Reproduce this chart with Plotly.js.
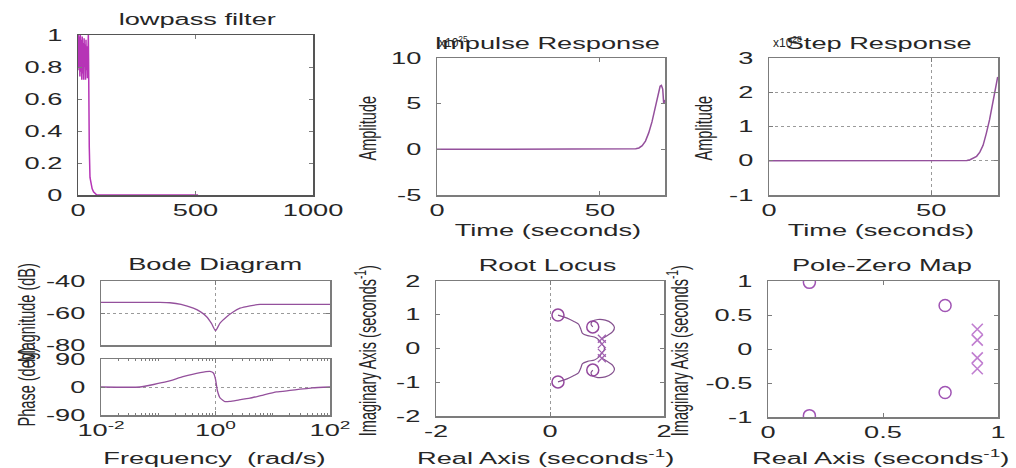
<!DOCTYPE html>
<html>
<head>
<meta charset="utf-8">
<script src="https://cdn.plot.ly/plotly-3.0.1.min.js"></script>
<style>
html,body{margin:0;padding:0;background:#fff;}
#chart{width:1016px;height:468px;}
</style>
</head>
<body>
<div id="chart"></div>
<script>
// ---------------- data ----------------
// lowpass filter magnitude
const lpFreq = [0, 2, 4, 6, 8, 10, 12, 14, 16, 18, 20, 22, 24, 26, 28, 30, 32, 34, 36, 38, 40, 42, 44, 45, 46, 48, 51, 55, 60, 66, 72, 80, 120, 250, 400, 511];
const lpMag  = [0.78, 1.0, 0.8, 0.99, 0.74, 1.0, 0.77, 0.97, 0.72, 0.99, 0.76, 0.95, 0.72, 0.98, 0.8, 0.94, 0.72, 0.97, 0.78, 0.93, 0.73, 0.97, 1.0, 0.85, 0.47, 0.3, 0.11, 0.07, 0.04, 0.02, 0.01, 0.0, 0.0, 0.0, 0.0, 0.0];
const lpXTicks = [0, 500, 1000];
const lpYTicks = [0, 0.2, 0.4, 0.6, 0.8, 1];

// impulse response (x 1e25)
const impTime = [0, 10, 20, 30, 40, 50, 55, 58, 60, 61, 62, 63, 64, 65, 66, 67, 68, 68.5, 68.9, 69.3, 69.6, 70];
const impAmp  = [0, 0, 0, 0, 0, 0, 0, 0, 0.02, 0.06, 0.15, 0.4, 0.9, 1.8, 3.0, 4.6, 6.3, 6.9, 7.0, 6.6, 5.0, 5.4];
const timeTicks = [0, 50];
const impYTicks = [-5, 0, 5, 10];
const impYLabels = ['-5', '0', '5', '10'];

// step response (x 1e28)
const stepTime = [0, 10, 20, 30, 40, 50, 55, 60, 61, 62, 63, 64, 65, 66, 67, 68, 69, 70, 70.5];
const stepAmp  = [0, 0, 0, 0, 0, 0, 0, 0, 0.01, 0.03, 0.07, 0.13, 0.25, 0.45, 0.8, 1.2, 1.7, 2.2, 2.45];
const stepYTicks = [-1, 0, 1, 2, 3];
const stepYLabels = ['-1', '0', '1', '2', '3'];

// Bode diagram
const bodeMagW  = [0.01, 0.03, 0.1, 0.16, 0.25, 0.41, 0.55, 0.7, 0.85, 1.0, 1.2, 1.57, 2.0, 2.68, 4.0, 6.0, 10, 30, 100];
const bodeMagDb = [-53.3, -53.3, -53.4, -53.6, -54.6, -57, -59.3, -62.3, -66.5, -71, -66.3, -62.3, -59.5, -57, -55.5, -54.6, -54.6, -54.6, -54.6];
const bodePhW   = [0.01, 0.048, 0.14, 0.27, 0.54, 0.8, 0.92, 1.0, 1.08, 1.2, 1.47, 1.8, 2.5, 4.0, 7.0, 11.7, 20, 30, 50, 100];
const bodePhDeg = [0, 0, 17, 33, 46, 50, 45, 25, -12, -35, -47, -46, -42, -36, -25, -16, -11, -7, -3, 0];
const bodeTickVals = [0.01, 1, 100];
const bodeTickText = ['10<sup>-2</sup>', '10<sup>0</sup>', '10<sup>2</sup>'];
const magTicks = [-80, -60, -40];
const magLabels = ['-80', '-60', '-40'];
const phTicks = [-90, 0, 90];
const phLabels = ['-90', '0', '90'];

// root locus branches (real, imaginary)
const rlB1Re = [0.91, 1.00, 1.10, 1.13, 1.08, 0.97, 0.84, 0.74, 0.72, 0.75];
const rlB1Im = [0.29, 0.38, 0.50, 0.63, 0.75, 0.84, 0.86, 0.80, 0.72, 0.64];
const rlB2Re = [0.91, 0.86, 0.78, 0.66, 0.57, 0.54, 0.50, 0.42, 0.30, 0.14];
const rlB2Im = [0.13, 0.25, 0.34, 0.38, 0.45, 0.58, 0.72, 0.80, 0.90, 0.99];
const rlB3Re = [0.91, 0.86, 0.78, 0.66, 0.57, 0.54, 0.50, 0.42, 0.30, 0.14];
const rlB3Im = [-0.13, -0.25, -0.34, -0.38, -0.45, -0.58, -0.72, -0.80, -0.90, -0.99];
const rlB4Re = [0.91, 1.00, 1.10, 1.13, 1.08, 0.97, 0.84, 0.74, 0.72, 0.75];
const rlB4Im = [-0.29, -0.38, -0.50, -0.63, -0.75, -0.84, -0.86, -0.80, -0.72, -0.64];
const rlB5Re = [0.91, 0.95, 0.95, 0.91];
const rlB5Im = [0.13, 0.05, -0.05, -0.13];
const rlZeroRe = [0.14, 0.14, 0.75, 0.75];
const rlZeroIm = [0.99, -0.99, 0.64, -0.64];
const rlPoleRe = [0.91, 0.91, 0.91, 0.91];
const rlPoleIm = [0.29, 0.13, -0.13, -0.29];
const rlXTicks = [-2, 0, 2];
const rlXLabels = ['-2', '0', '2'];
const rlYTicks = [-2, -1, 0, 1, 2];
const rlYLabels = ['-2', '-1', '0', '1', '2'];

// pole-zero map
const pzZeroRe = [0.18, 0.18, 0.77, 0.77];
const pzZeroIm = [0.98, -0.98, 0.64, -0.64];
const pzPoleRe = [0.91, 0.91, 0.91, 0.91];
const pzPoleIm = [0.29, 0.13, -0.13, -0.29];
const pzXTicks = [0, 0.5, 1];
const pzYTicks = [-1, -0.5, 0, 0.5, 1];
const pzYLabels = ['-1', '-0.5', '0', '0.5', '1'];

// ---------------- layout helpers ----------------
const W = 1016, H = 468;
const FONT = 'Liberation Sans, Arial, Helvetica, sans-serif';
const TXT = '#262626';
const AX = '#7c7c7c';
const STRETCH = 1.7;
const VSIZE = 14.5 * STRETCH;   // rotated labels: glyphs widened across, length kept
const px = v => v / W;
const py = v => 1 - v / H;
const dX = (a, b) => [px(a), px(b)];
const dY = (top, bot) => [py(bot), py(top)];

function axis(o) {
  return Object.assign({
    showline: true, linecolor: AX, linewidth: 1.5, mirror: 'ticks',
    ticks: 'inside', ticklen: 4, tickwidth: 1, tickcolor: AX,
    tickfont: {family: FONT, size: 16, color: TXT},
    zeroline: false, showgrid: false, fixedrange: true,
    gridcolor: '#9a9a9a', griddash: 'dot', gridwidth: 1
  }, o);
}

const LINE = '#94509c';
const RL = '#84508e';
const traces = [
  {x: lpFreq, y: lpMag, xaxis: 'x', yaxis: 'y', mode: 'lines', line: {color: '#b634b6', width: 1.5}},
  {x: impTime, y: impAmp, xaxis: 'x2', yaxis: 'y2', mode: 'lines', line: {color: LINE, width: 1.5}},
  {x: stepTime, y: stepAmp, xaxis: 'x3', yaxis: 'y3', mode: 'lines', line: {color: LINE, width: 1.5}},
  {x: bodeMagW, y: bodeMagDb, xaxis: 'x4', yaxis: 'y4', mode: 'lines', line: {color: LINE, width: 1.3, shape: 'spline', smoothing: 0.6}},
  {x: bodePhW, y: bodePhDeg, xaxis: 'x5', yaxis: 'y5', mode: 'lines', line: {color: LINE, width: 1.3, shape: 'spline', smoothing: 0.4}},
];
[[rlB1Re, rlB1Im], [rlB2Re, rlB2Im], [rlB3Re, rlB3Im], [rlB4Re, rlB4Im], [rlB5Re, rlB5Im]].forEach(b => {
  traces.push({x: b[0], y: b[1], xaxis: 'x6', yaxis: 'y6', mode: 'lines', line: {color: RL, width: 1.2, shape: 'spline', smoothing: 0.8}});
});
traces.push({x: rlZeroRe, y: rlZeroIm, xaxis: 'x6', yaxis: 'y6', mode: 'markers', marker: {symbol: 'circle-open', size: 12, color: '#94489e', line: {width: 1.5}}});
traces.push({x: rlPoleRe, y: rlPoleIm, xaxis: 'x6', yaxis: 'y6', mode: 'markers', marker: {symbol: 'x-thin-open', size: 8, color: '#a060b0', line: {width: 1.3}}});
traces.push({x: pzZeroRe, y: pzZeroIm, xaxis: 'x7', yaxis: 'y7', mode: 'markers', marker: {symbol: 'circle-open', size: 12, color: '#a054b4', line: {width: 1.5}}});
traces.push({x: pzPoleRe, y: pzPoleIm, xaxis: 'x7', yaxis: 'y7', mode: 'markers', marker: {symbol: 'x-thin-open', size: 11, color: '#c07ed0', line: {width: 1.6}}});

function ann(text, x, y, size, angle, extra) {
  return Object.assign({
    text: text, xref: 'paper', yref: 'paper', x: px(x), y: py(y),
    xanchor: 'center', yanchor: 'middle', showarrow: false,
    textangle: angle || 0, font: {family: FONT, size: size, color: TXT}
  }, extra || {});
}

const SO = 11;
const layout = {
  width: W, height: H, margin: {l: 0, r: 0, t: 0, b: 0},
  paper_bgcolor: '#ffffff', plot_bgcolor: '#ffffff', showlegend: false,
  xaxis:  axis({domain: dX(78, 313), anchor: 'y', range: [0, 1000], tickvals: lpXTicks, linecolor: '#555'}),
  yaxis:  axis({domain: dY(35, 195), anchor: 'x', range: [0, 1], tickvals: lpYTicks, linecolor: '#555', ticklabelstandoff: SO}),
  xaxis2: axis({domain: dX(437, 665), anchor: 'y2', range: [0, 70], tickvals: timeTicks}),
  yaxis2: axis({domain: dY(58, 195), anchor: 'x2', range: [-5, 10], tickvals: impYTicks, ticktext: impYLabels, ticklabelstandoff: SO}),
  xaxis3: axis({domain: dX(769, 998), anchor: 'y3', range: [0, 70.6], tickvals: timeTicks, showgrid: true}),
  yaxis3: axis({domain: dY(58, 195), anchor: 'x3', range: [-1, 3], tickvals: stepYTicks, ticktext: stepYLabels, showgrid: true, ticklabelstandoff: SO}),
  xaxis4: axis({domain: dX(101, 330), anchor: 'y4', type: 'log', range: [-2, 2], tickvals: bodeTickVals, showticklabels: false, showgrid: true}),
  yaxis4: axis({domain: dY(281, 345), anchor: 'x4', range: [-80, -40], tickvals: magTicks, ticktext: magLabels, showgrid: true, ticklabelstandoff: SO}),
  xaxis5: axis({domain: dX(101, 330), anchor: 'y5', type: 'log', range: [-2, 2], tickvals: bodeTickVals, ticktext: bodeTickText, showgrid: true,
                minor: {dtick: 'D1', ticks: 'inside', ticklen: 2, tickcolor: AX, showgrid: false}}),
  yaxis5: axis({domain: dY(359, 415), anchor: 'x5', range: [-90, 90], tickvals: phTicks, ticktext: phLabels, showgrid: true, ticklabelstandoff: SO}),
  xaxis6: axis({domain: dX(436, 664), anchor: 'y6', range: [-2, 2], tickvals: rlXTicks, ticktext: rlXLabels, showgrid: true}),
  yaxis6: axis({domain: dY(281, 416), anchor: 'x6', range: [-2, 2], tickvals: rlYTicks, ticktext: rlYLabels, ticklabelstandoff: SO}),
  xaxis7: axis({domain: dX(768, 998), anchor: 'y7', range: [0, 1], tickvals: pzXTicks}),
  yaxis7: axis({domain: dY(281, 417), anchor: 'x7', range: [-1, 1], tickvals: pzYTicks, ticktext: pzYLabels, ticklabelstandoff: SO}),
  // overlay axes that only carry the dotted zero grid line
  yaxis8: {overlaying: 'y6', anchor: 'x6', range: [-2, 2], tickvals: [0], showgrid: true, griddash: 'dot', gridcolor: '#9a9a9a',
           showticklabels: false, ticks: '', showline: false, zeroline: false, fixedrange: true},
  yaxis9: {overlaying: 'y7', anchor: 'x7', range: [-1, 1], tickvals: [0], showgrid: true, griddash: 'dot', gridcolor: '#9a9a9a',
           showticklabels: false, ticks: '', showline: false, zeroline: false, fixedrange: true},
  annotations: [
    ann('lowpass filter', 197, 20, 16),
    ann('Impulse Response', 547, 43, 16),
    ann('Step Response', 879, 43, 16),
    ann('x10<sup>25</sup>', 437, 42, 12, 0, {xanchor: 'left'}),
    ann('x10<sup>28</sup>', 771, 42, 12, 0, {xanchor: 'left'}),
    ann('Time (seconds)', 548, 230, 16),
    ann('Time (seconds)', 881, 230, 16),
    ann('Amplitude', 367, 128, VSIZE, -90),
    ann('Amplitude', 703, 128, VSIZE, -90),
    ann('Bode Diagram', 215, 264, 16),
    ann('Root Locus', 547, 265, 16),
    ann('Pole-Zero Map', 882, 265, 16),
    ann('Magnitude (dB)', 26, 313, VSIZE, -90),
    ann('Phase (deg)', 26, 387, VSIZE, -90),
    ann('Frequency \u00a0(rad/s)', 214, 458, 16),
    ann('Real Axis (seconds<sup>-1</sup>)', 545, 457, 16),
    ann('Real Axis (seconds<sup>-1</sup>)', 880, 457, 16),
    ann('Imaginary Axis (seconds<sup>-1</sup>)', 365, 351, VSIZE, -90),
    ann('Imaginary Axis (seconds<sup>-1</sup>)', 677, 351, VSIZE, -90)
  ]
};

function isRotated(t) {
  let el = t;
  while (el && el.tagName && el.tagName.toLowerCase() !== 'svg') {
    const tr = el.getAttribute && el.getAttribute('transform');
    if (tr) {
      const m = /rotate\(\s*(-?[\d.]+)/.exec(tr);
      if (m && Math.abs(parseFloat(m[1])) > 0.5) return true;
    }
    el = el.parentNode;
  }
  return false;
}
function stretchText() {
  document.querySelectorAll('#chart .main-svg text').forEach(t => {
    if (t.getAttribute('data-st')) return;
    if ((t.textContent || '').indexOf('x10') === 0) return;
    const len = t.getComputedTextLength();
    if (!len) return;
    // horizontal texts are widened; rotated ones keep their length (their glyphs are already widened across)
    const f = isRotated(t) ? 1 / STRETCH : STRETCH;
    t.setAttribute('textLength', (len * f).toFixed(1));
    t.setAttribute('lengthAdjust', 'spacingAndGlyphs');
    t.setAttribute('data-st', '1');
  });
}

Plotly.newPlot('chart', traces, layout, {staticPlot: true, displayModeBar: false}).then(stretchText);
</script>
</body>
</html>
